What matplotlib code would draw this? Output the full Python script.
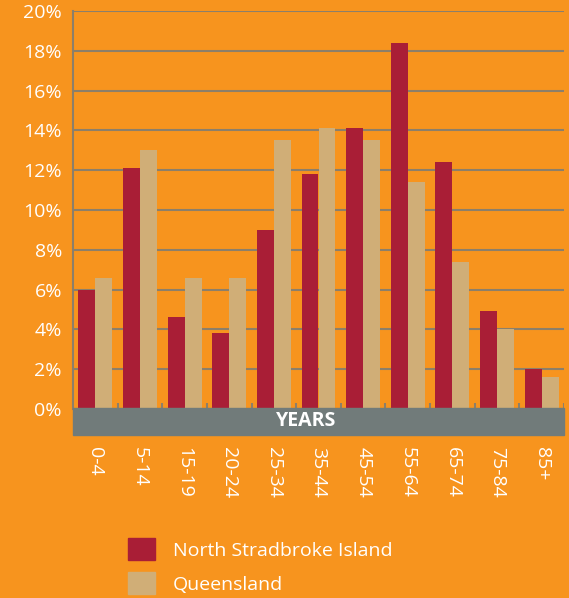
import numpy as np
import matplotlib.pyplot as plt
from matplotlib.patches import Rectangle

# Data
age_groups = ['0-4', '5-14', '15-19', '20-24', '25-34', '35-44',
              '45-54', '55-64', '65-74', '75-84', '85+']
stradbroke = [6.0, 12.1, 4.6, 3.8, 9.0, 11.8, 14.1, 18.4, 12.4, 4.9, 2.0]
queensland = [6.6, 13.0, 6.6, 6.6, 13.5, 14.1, 13.5, 11.4, 7.4, 4.0, 1.6]
y_ticks = [0, 2, 4, 6, 8, 10, 12, 14, 16, 18, 20]

# Colours
bg = '#F7941E'
red = '#A91E36'
tan = '#D0AE77'
grid_col = '#8C7F6A'
band_col = '#717B7A'

plt.rcParams['font.family'] = ['Open Sans', 'DejaVu Sans']

fig = plt.figure(figsize=(5.69, 5.98), dpi=100, facecolor=bg)
W, H = 569, 598
ax = fig.add_axes([73 / W, 1 - 409 / H, (564 - 73) / W, (409 - 11) / H])
ax.set_facecolor(bg)

x = np.arange(len(age_groups))
w = 0.38
ax.bar(x - w / 2, stradbroke, w, color=red, zorder=3)
ax.bar(x + w / 2, queensland, w, color=tan, zorder=3)

ax.set_xlim(-0.5, len(age_groups) - 0.5)
ax.set_ylim(0, 20)
ax.set_yticks(y_ticks)
ax.set_yticklabels([f'{v}%' for v in y_ticks], color='white', fontsize=14)
ax.tick_params(axis='y', length=0, pad=8)
ax.set_xticks([])
for v in y_ticks[1:]:
    ax.axhline(v, color=grid_col, lw=1.5, zorder=1)

# small boundary ticks above the band
ax.vlines(x + 0.5, 0, 0.3, color=grid_col, lw=1.5, zorder=2)

for s in ['top', 'right', 'bottom']:
    ax.spines[s].set_visible(False)
ax.spines['left'].set_color(grid_col)
ax.spines['left'].set_linewidth(1.5)

# grey band with YEARS
fig.patches.append(Rectangle((73 / W, 1 - 435 / H), (564 - 73) / W, 27 / H,
                             transform=fig.transFigure, color=band_col, zorder=5))
fig.text(306 / W, 1 - 421 / H, 'YEARS', color='white', fontsize=14,
         fontweight='bold', ha='center', va='center', zorder=6)

# rotated category labels
for i, lab in enumerate(age_groups):
    xf = ax.transData.transform((i, 0))[0] / W
    fig.text(xf, 1 - 447 / H, lab, rotation=270, color='white', fontsize=14,
             ha='center', va='top')

# legend
fig.patches.append(Rectangle((128 / W, 1 - 560 / H), 27 / W, 22 / H,
                             transform=fig.transFigure, color=red))
fig.patches.append(Rectangle((128 / W, 1 - 594 / H), 27 / W, 22 / H,
                             transform=fig.transFigure, color=tan))
fig.text(173 / W, 1 - 551 / H, 'North Stradbroke Island', color='white',
         fontsize=14, va='center')
fig.text(173 / W, 1 - 585 / H, 'Queensland', color='white',
         fontsize=14, va='center')

fig.savefig('out.png', dpi=100, facecolor=bg)
